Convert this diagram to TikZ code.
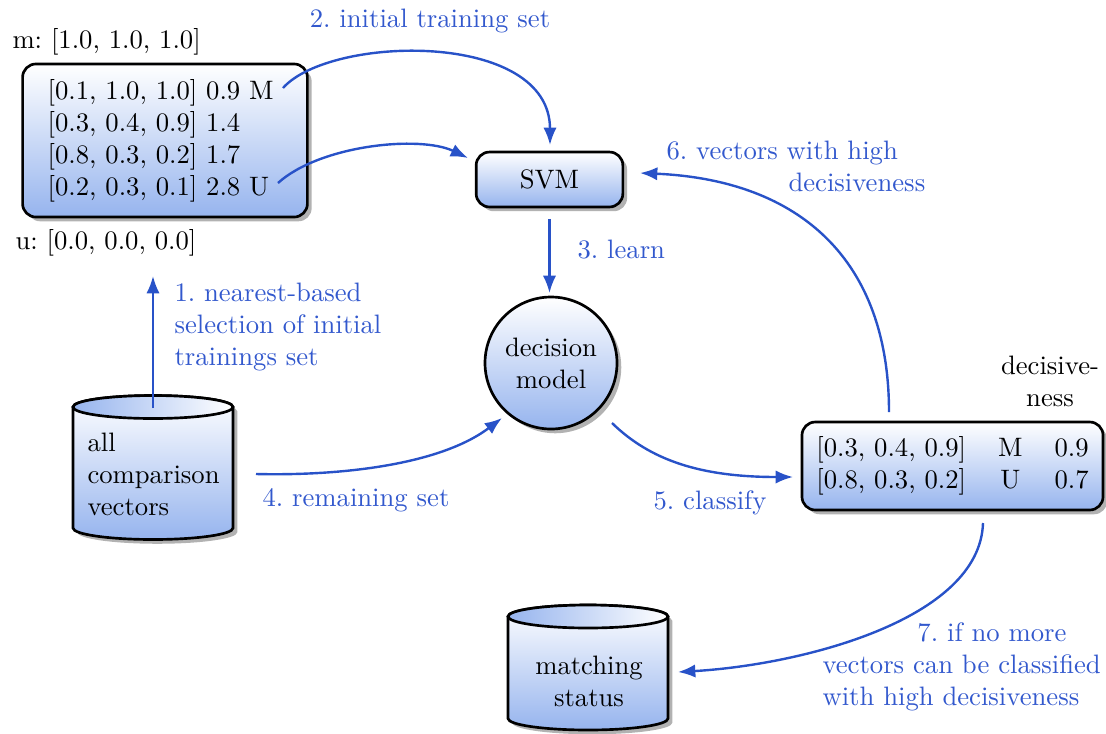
\documentclass[tikz,border=0pt]{standalone}
\usetikzlibrary{shapes.geometric,shadows,arrows.meta}
\definecolor{arrowblue}{RGB}{40,82,200}
\definecolor{labelblue}{RGB}{50,88,205}
\definecolor{fillblue}{RGB}{150,180,238}
\frenchspacing
\begin{document}
\frenchspacing
\begin{tikzpicture}[x=0.375pt,y=-0.375pt,
  shad/.style={drop shadow={shadow xshift=1.6pt, shadow yshift=-1.6pt, fill=black!30, opacity=1}},
  box/.style={draw, line width=1pt, rounded corners=5pt, top color=white, bottom color=fillblue, shad},
  roundbox/.style={draw, line width=1pt, circle, top color=white, bottom color=fillblue, shad},
  cylbody/.style={draw, line width=1pt, top color=white, bottom color=fillblue, shad},
  cyltop/.style={draw, line width=1pt, left color=fillblue, right color=white},
  arr/.style={draw=arrowblue, line width=0.9pt, -{Latex[length=6.5pt,width=5pt]}},
  lbl/.style={text=labelblue, inner sep=0pt},
  txt/.style={inner sep=0pt}]
\useasboundingbox (0,0) rectangle (1106,733);

% training box
\node[box, text width=88pt, inner xsep=9.4pt, minimum height=57.4pt, align=left] (train) at (165,140.5)
  {[0.1, 1.0, 1.0] 0.9 M\\{}[0.3, 0.4, 0.9] 1.4\\{}[0.8, 0.3, 0.2] 1.7\\{}[0.2, 0.3, 0.1] 2.8 U};
\node[txt, anchor=west] (mlab) at (12,42) {m: [1.0, 1.0, 1.0]};
\node[txt, anchor=west] (ulab) at (15,243) {u: [0.0, 0.0, 0.0]};

% SVM
\node[box, minimum width=55pt, minimum height=20.6pt] (svm) at (549.5,179.5) {SVM};

% decision model
\node[roundbox, minimum size=49.5pt, inner sep=0pt, align=center] (dm) at (551,363) {decision\\model};

% result box
\node[box, minimum width=112.9pt, minimum height=33pt] (res) at (952.5,466)
  {\begin{tabular}{@{}lcc@{}}{[0.3, 0.4, 0.9]} & M & 0.9\\ {[0.8, 0.3, 0.2]} & U & 0.7\end{tabular}};
\node[txt, align=center] (declab) at (1050,381) {decisive-\\ness};

% all comparison vectors cylinder
\path[cylbody] (73,407) -- (73,528) arc[start angle=180,end angle=360,x radius=30pt,y radius=4.31pt]
  -- (233,407) arc[start angle=0,end angle=180,x radius=30pt,y radius=4.31pt] -- cycle;
\path[cyltop] (153,407) ellipse [x radius=30pt, y radius=4.31pt];
\node[txt, anchor=west, align=left] (allvec) at (87,474) {all\\comparison\\vectors};
\coordinate (allvectop) at (153,408);

% matching status cylinder
\path[cylbody] (508,616.5) -- (508,718.5) arc[start angle=180,end angle=360,x radius=30pt,y radius=4.31pt]
  -- (668,616.5) arc[start angle=0,end angle=180,x radius=30pt,y radius=4.31pt] -- cycle;
\path[cyltop] (588,616.5) ellipse [x radius=30pt, y radius=4.31pt];
\node[txt, align=center] (ms) at (589,681) {matching\\status};

% connector end points
\coordinate (a1e) at (153,276);
\coordinate (a2s) at (283,88);
\coordinate (a2e) at (550,145);
\coordinate (aUs) at (278,183);
\coordinate (aUe) at (468,158);
\coordinate (a4s) at (256,474);
\coordinate (a4e) at (502,418);
\coordinate (a5s) at (612,423);
\coordinate (a5e) at (793,477);
\coordinate (a6s) at (889,412);
\coordinate (a6e) at (640,173);
\coordinate (a7s) at (983,523);
\coordinate (a7e) at (678,672);

% connectors
\draw[arr] (allvectop) -- (a1e);
\draw[arr] (a2s) .. controls (330,35) and (550,30) .. (a2e);
\draw[arr] (aUs) .. controls (320,145) and (420,135) .. (aUe);
\draw[arr, shorten <=4pt, shorten >=1pt] (svm.south) -- (svm.south |- dm.north);
\draw[arr] (a4s) .. controls (340,476) and (440,465) .. (a4e);
\draw[arr] (a5s) .. controls (650,460) and (700,477) .. (a5e);
\draw[arr] (a6s) .. controls (889,260) and (800,180) .. (a6e);
\draw[arr] (a7s) .. controls (980,620) and (800,665) .. (a7e);

% labels
\node[lbl, anchor=west, align=left] (l1) at (174,327) {1. nearest-based\\selection of initial\\trainings set};
\node[lbl] (l2) at (430,21) {2. initial training set};
\node[lbl, anchor=west] (l3) at (577,250) {3. learn};
\node[lbl, anchor=west] (l4) at (262,500) {4. remaining set};
\node[lbl] (l5) at (710,503) {5. classify};
\node[lbl, anchor=west, align=left] (l6) at (666,166.5) {6. vectors with high\\\hspace*{45.75pt}decisiveness};
\node[lbl, anchor=west, align=left] (l7) at (822,667) {\hspace*{35.6pt}7. if no more\\vectors can be classified\\with high decisiveness};
\end{tikzpicture}
\end{document}
